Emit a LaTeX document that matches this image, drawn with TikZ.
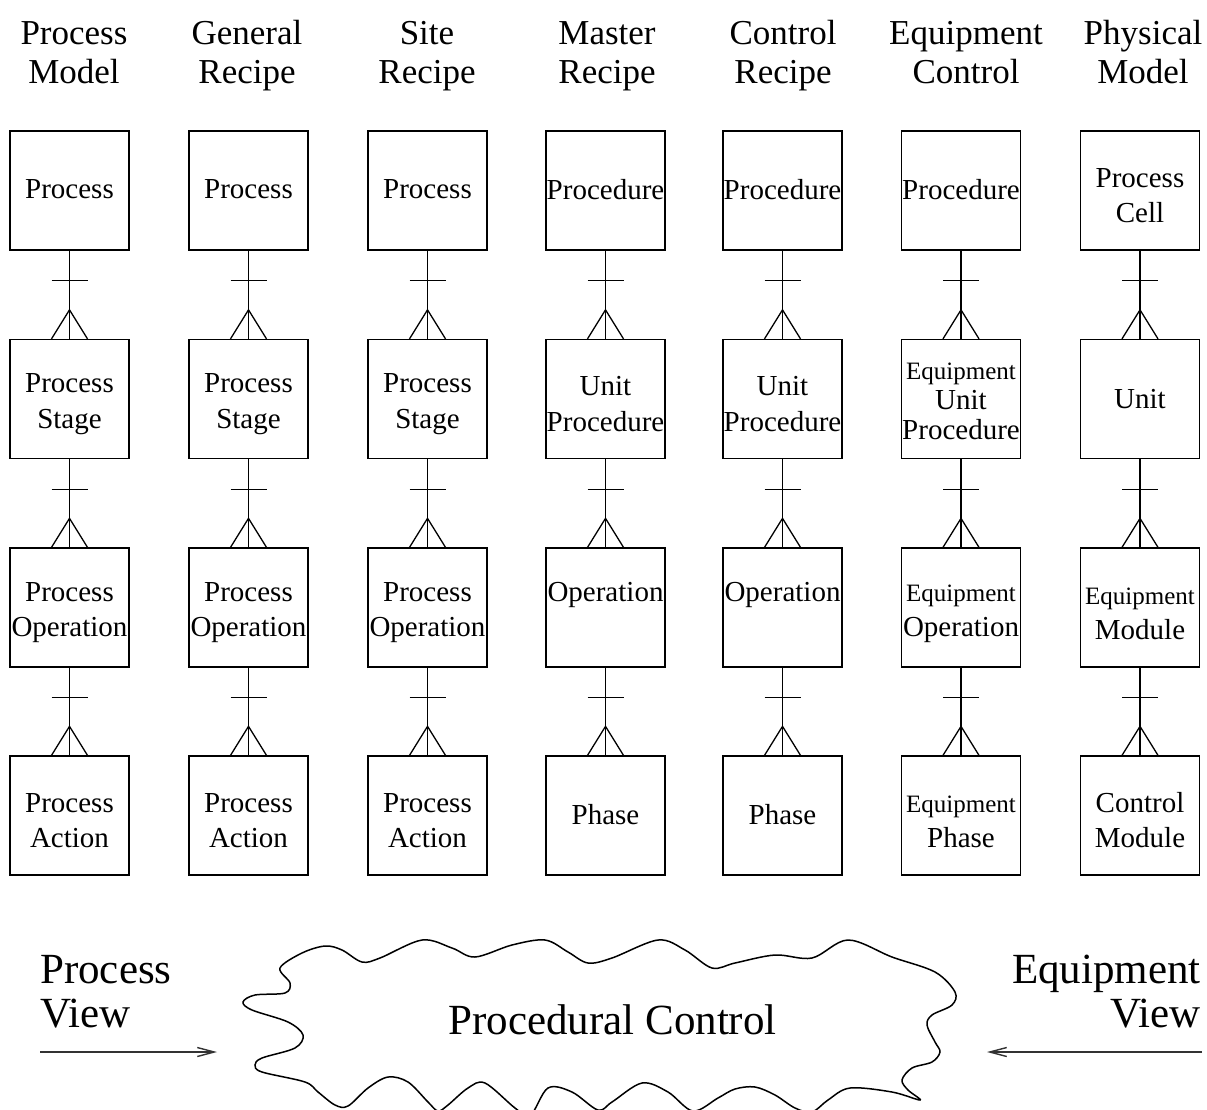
\documentclass[tikz,border=0pt]{standalone}
\usepackage{fontspec}
\setmainfont{Liberation Serif}
\usetikzlibrary{calc,arrows.meta}
\newcommand\eqs{\fontsize{25}{30}\selectfont}
\newcommand\dn{\rule{0pt}{29pt}}
\newcommand\erlink[2]{%
  \draw[lnk] (#1.south) -- (#2.north);
  \draw[lnk] ($(#1.south)+(-18,30)$) -- ($(#1.south)+(18,30)$);
  \draw[lnk] ($(#2.north)+(-18,0)$) -- ($(#2.north)+(0,-29)$) -- ($(#2.north)+(18,0)$);
}
\begin{document}
\begin{tikzpicture}[x=1pt,y=-1pt,
  box/.style={draw, line width=1.3pt, minimum width=119pt, minimum height=119pt, inner sep=0pt, align=center, font=\fontsize{29}{35.5}\selectfont},
  hdr/.style={align=center, inner sep=0pt, anchor=base, font=\fontsize{35}{39.5}\selectfont},
  view/.style={inner sep=0pt, font=\fontsize{43}{44}\selectfont},
  lnk/.style={line width=1.3pt, line join=miter},
  varrow/.style={line width=1.6pt, draw=black!80, -{Straight Barb[length=17pt,width=9pt,line width=1.4pt]}},
  cloud/.style={line width=1.5pt}]
\useasboundingbox (0,0) rectangle (1207,1109);

% headers (anchor base = last line)
\node[hdr] (h1) at (74,83.5) {Process\\Model};
\node[hdr] (h2) at (247,83.5) {General\\Recipe};
\node[hdr] (h3) at (427,83.5) {Site\\Recipe};
\node[hdr] (h4) at (607,83.5) {Master\\Recipe};
\node[hdr] (h5) at (783,83.5) {Control\\Recipe};
\node[hdr] (h6) at (966,83.5) {Equipment\\Control};
\node[hdr] (h7) at (1143,83.5) {Physical\\Model};

% column 1
\node[box] (c1r1) at (69.5,190.5) {\raisebox{2pt}{Process}};
\node[box] (c1r2) at (69.5,399) {\dn Process\\Stage};
\node[box] (c1r3) at (69.5,607.5) {\dn Process\\Operation};
\node[box] (c1r4) at (69.5,815.5) {\dn Process\\Action};
% column 2
\node[box] (c2r1) at (248.5,190.5) {\raisebox{2pt}{Process}};
\node[box] (c2r2) at (248.5,399) {\dn Process\\Stage};
\node[box] (c2r3) at (248.5,607.5) {\dn Process\\Operation};
\node[box] (c2r4) at (248.5,815.5) {\dn Process\\Action};
% column 3
\node[box] (c3r1) at (427.5,190.5) {\raisebox{2pt}{Process}};
\node[box] (c3r2) at (427.5,399) {\dn Process\\Stage};
\node[box] (c3r3) at (427.5,607.5) {\dn Process\\Operation};
\node[box] (c3r4) at (427.5,815.5) {\dn Process\\Action};
% column 4
\node[box] (c4r1) at (605.5,190.5) {\raisebox{2pt}{Procedure}};
\node[box] (c4r2) at (605.5,399) {\dn Unit\\Procedure};
\node[box] (c4r3) at (605.5,607.5) {\dn Operation\\\vphantom{p}};
\node[box] (c4r4) at (605.5,815.5) {\raisebox{3pt}{Phase}};
% column 5
\node[box] (c5r1) at (782.5,190.5) {\raisebox{2pt}{Procedure}};
\node[box] (c5r2) at (782.5,399) {\dn Unit\\Procedure};
\node[box] (c5r3) at (782.5,607.5) {\dn Operation\\\vphantom{p}};
\node[box] (c5r4) at (782.5,815.5) {\raisebox{3pt}{Phase}};
% column 6
\node[box] (c6r1) at (961,190.5) {\raisebox{2pt}{Procedure}};
\node[box, font=\fontsize{29}{30}\selectfont] (c6r2) at (961,399) {\rule{0pt}{22pt}{\eqs Equipment}\\Unit\\Procedure};
\node[box] (c6r3) at (961,607.5) {\dn{\eqs Equipment}\\Operation};
\node[box] (c6r4) at (961,815.5) {\dn{\eqs Equipment}\\Phase};
% column 7
\node[box] (c7r1) at (1140,190.5) {\dn Process\\Cell};
\node[box] (c7r2) at (1140,399) {\raisebox{-3pt}{Unit}};
\node[box] (c7r3) at (1140,607.5) {\dn{\eqs Equipment}\\Module};
\node[box] (c7r4) at (1140,815.5) {\dn Control\\Module};

\foreach \c in {1,...,7}{
  \erlink{c\c r1}{c\c r2}
  \erlink{c\c r2}{c\c r3}
  \erlink{c\c r3}{c\c r4}
}

% cloud
\draw[cloud] plot[smooth cycle, tension=0.55] coordinates {
 (280,968) (302,953) (325,946) (342,950) (362,962) (380,958) (422,940) (452,948) (475,957)
 (512,945) (545,940) (568,952) (588,963) (612,958) (658,940) (685,950) (712,968) (735,963)
 (775,955) (812,958) (848,940) (892,957) (935,972) (955,992) (952,1005) (932,1015) (927,1025)
 (935,1042) (940,1052) (932,1062) (912,1068) (902,1080) (908,1090) (920,1100)
 (892,1092) (850,1088) (828,1100) (812,1112) (795,1108) (775,1095) (755,1087) (735,1089)
 (718,1098) (693,1111) (668,1092) (642,1083) (612,1102) (598,1110) (572,1092) (548,1088)
 (530,1116) (515,1108) (485,1083) (468,1088) (448,1105) (438,1111) (428,1102) (408,1082)
 (388,1077) (368,1088) (348,1106) (335,1105) (318,1092) (305,1082) (262,1072) (255,1065)
 (262,1058) (295,1048) (303,1035) (288,1022) (252,1010) (243,1002) (255,995) (285,993) (290,983)
};
\node[view, anchor=base] (pc) at (612.5,1034) {Procedural Control};

% views (anchor base = last line)
\node[view, align=left, anchor=base west] (pv) at (40,1027) {Process\\View};
\node[view, align=right, anchor=base east] (ev) at (1201,1027) {Equipment\\View};
\coordinate (pvs) at (40,1052);
\coordinate (pve) at (217,1052);
\coordinate (evs) at (1202,1052);
\coordinate (eve) at (987,1052);
\draw[varrow] (pvs) -- (pve);
\draw[varrow] (evs) -- (eve);
\end{tikzpicture}
\end{document}
